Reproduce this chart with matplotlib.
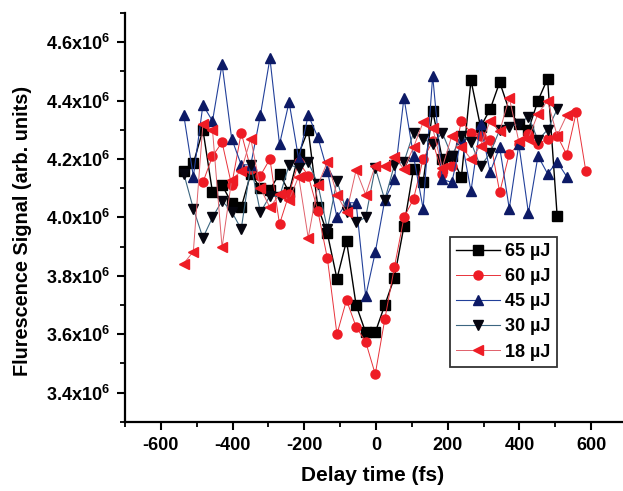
import numpy as np
import matplotlib
matplotlib.use("Agg")
import matplotlib.pyplot as plt
from matplotlib.ticker import MultipleLocator, FuncFormatter

plt.rcParams['font.family'] = ['Liberation Sans', 'DejaVu Sans']
plt.rcParams['font.weight'] = 'bold'
plt.rcParams['mathtext.fontset'] = 'custom'
plt.rcParams['mathtext.rm'] = 'Liberation Sans:bold'
plt.rcParams['mathtext.default'] = 'rm'

# delay grid (fs), ~26.7 fs per step
step = 26.7
t0 = -536.0

# fluorescence signal, units of 1e6
s65 = [4.16, 4.185, 4.30, 4.086, 4.11, 4.05, 4.034, 4.15, 4.10, 4.095,
       4.15, 4.086, 4.217, 4.30, 4.037, 3.945, 3.79, 3.92, 3.70, 3.606,
       3.606, 3.70, 3.794, 3.97, 4.166, 4.12, 4.366, 4.20, 4.21, 4.137,
       4.47, 4.31, 4.37, 4.463, 4.366, 4.32, 4.30, 4.40, 4.475, 4.006]
s60 = [4.12, 4.21, 4.257, 4.11, 4.29, 4.166, 4.143, 4.20, 3.977, 4.08,
       4.19, 4.143, 4.023, 3.86, 3.60, 3.717, 3.625, 3.574, 3.463, 3.651,
       3.829, 4.0, 4.063, 4.20, 4.26, 4.149, 4.177, 4.33, 4.29, 4.28,
       4.265, 4.086, 4.217, 4.25, 4.286, 4.25, 4.27, 4.28, 4.215, 4.36,
       4.158]
s45 = [4.35, 4.14, 4.385, 4.33, 4.525, 4.27, 4.18, 4.18, 4.35, 4.545,
       4.25, 4.395, 4.20, 4.35, 4.275, 4.16, 4.0, 4.05, 4.05, 3.73,
       3.88, 4.06, 4.13, 4.41, 4.21, 4.03, 4.485, 4.13, 4.12, 4.27,
       4.09, 4.32, 4.155, 4.24, 4.03, 4.25, 4.015, 4.21, 4.15, 4.19,
       4.14]
s30 = [4.15, 4.03, 3.93, 4.0, 4.057, 4.02, 3.96, 4.18, 4.017, 4.074,
       4.07, 4.18, 4.17, 4.19, 4.115, 3.96, 4.126, 4.02, 3.983, 4.0,
       4.17, 4.06, 4.18, 4.19, 4.29, 4.27, 4.25, 4.29, 4.21, 4.28,
       4.257, 4.175, 4.22, 4.30, 4.31, 4.32, 4.345, 4.265, 4.30, 4.37]
s18 = [3.842, 3.883, 4.32, 4.30, 3.897, 4.128, 4.16, 4.27, 4.10, 4.034,
       4.08, 4.06, 4.14, 3.93, 4.11, 4.19, 4.078, 4.017, 4.162, 4.078,
       4.177, 4.177, 4.206, 4.166, 4.24, 4.326, 4.306, 4.17, 4.28, 4.242,
       4.2, 4.246, 4.33, 4.295, 4.41, 4.26, 4.27, 4.355, 4.40, 4.28,
       4.35]
# first grid index of each series
start = {'65': 0, '60': 2, '45': 0, '30': 0, '18': 0}

series = [
    ('65', s65, 's', '#000000', '#000000', 1.0),
    ('60', s60, 'o', '#ee1c25', '#e8323a', 0.7),
    ('45', s45, '^', '#0d1a66', '#22409a', 0.8),
    ('30', s30, 'v', '#05050f', '#3c6680', 0.8),
    ('18', s18, '<', '#ee1c25', '#e0606a', 0.7),
]

fig = plt.figure(figsize=(6.23, 4.91), dpi=100)
ax = fig.add_axes([0.2006, 0.141, 0.7994, 0.8325])

for name, vals, mk, mc, lc, lw in series:
    k = np.arange(len(vals)) + start[name]
    t = t0 + step * k
    ax.plot(t, vals, color=lc, lw=lw, marker=mk, ms=6.5,
            mfc=mc, mec=mc, label=name + ' \u00b5J')

ax.set_xlim(-700, 689)
ax.set_ylim(3.3, 4.7)
ax.xaxis.set_major_locator(MultipleLocator(200))
ax.xaxis.set_minor_locator(MultipleLocator(100))
ax.yaxis.set_major_locator(MultipleLocator(0.2))
ax.yaxis.set_minor_locator(MultipleLocator(0.1))
ax.yaxis.set_major_formatter(FuncFormatter(lambda v, p: f"{v:.1f}x10$^{{6}}$"))
ax.xaxis.set_major_formatter(FuncFormatter(lambda v, p: f"{v:.0f}"))

for side in ('top', 'right'):
    ax.spines[side].set_visible(False)
for side in ('left', 'bottom'):
    ax.spines[side].set_linewidth(1.6)
ax.tick_params(which='major', direction='out', length=6, width=1.5,
               labelsize=13, pad=5)
ax.tick_params(which='minor', direction='out', length=3.5, width=1.3)
for lbl in ax.get_xticklabels() + ax.get_yticklabels():
    lbl.set_fontweight('bold')

ax.set_xlabel('Delay time (fs)', fontsize=15, fontweight='bold')
ax.xaxis.set_label_coords(0.497, -0.108)
ax.set_ylabel('Flurescence Signal (arb. units)', fontsize=14.3,
              fontweight='bold')
ax.yaxis.set_label_coords(-0.187, 0.467)

leg = fig.legend(loc='upper left', bbox_to_anchor=(0.7223, 0.5179),
                 prop={'weight': 'bold', 'size': 13}, frameon=True,
                 fancybox=False, edgecolor='black', handlelength=2.4,
                 labelspacing=0.45, borderpad=0.35, handletextpad=0.3,
                 borderaxespad=0)
leg.get_frame().set_linewidth(1.3)

fig.savefig('out.png', dpi=100)
